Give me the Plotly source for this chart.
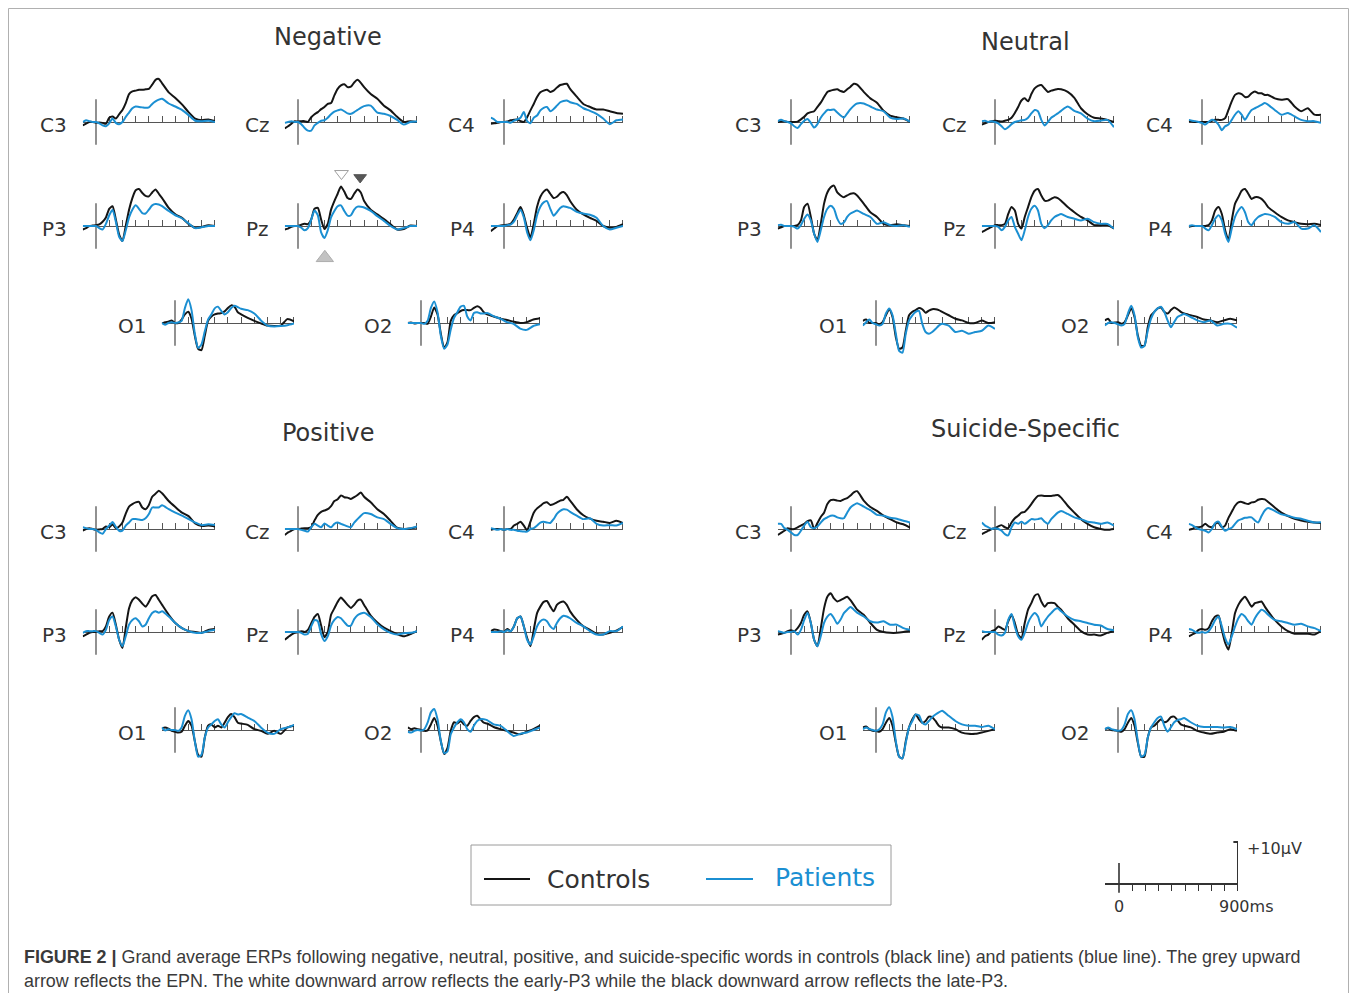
import plotly.graph_objects as go

# ---------------- data ----------------
TIME_MS = [-100, -75, -50, -25, 0, 25, 50, 75, 100, 125, 150, 175, 200, 225, 250, 275, 300,
           325, 350, 375, 400, 425, 450, 475, 500, 550, 600, 650, 700, 750, 800, 850, 900]
TICK_MS = [100, 200, 300, 400, 500, 600, 700, 800, 900]
CONDITIONS = ["Negative", "Neutral", "Positive", "Suicide-Specific"]
ELECTRODES = ["C3", "Cz", "C4", "P3", "Pz", "P4", "O1", "O2"]
GROUPS = ["Controls", "Patients"]

# Negative
NEG_C3_CTRL = [-0.8,-0.4,0,0,-0.2,-0.1,-0.2,-0.4,1.0,1.3,0.8,1.8,2.8,4.4,6.5,7.1,7.3,7.5,7.5,7.6,7.7,8.7,9.8,10.0,9.0,6.9,5.6,4.1,2.3,0.8,0.4,0.6,0.2]
NEG_C3_PAT = [0,0.4,0.2,0,0,-0.3,-0.8,-1.0,-0.3,0.8,-0.2,-0.5,0,1.2,2.2,3.2,3.6,3.5,3.4,3.3,3.4,4.2,4.8,5.2,5.4,4.3,3.6,2.8,1.6,0.3,0.2,0.3,0]
NEG_CZ_CTRL = [-1.5,-1.0,-0.4,0.2,0.1,0.2,0.2,0,1.1,1.8,2.3,3.0,3.5,4.2,4.4,6.2,7.7,8.5,8.8,8.1,8.2,9.2,9.8,9.1,8.1,6.5,5.4,3.8,2.7,1.2,0,0.2,0]
NEG_CZ_PAT = [-0.2,0,0.2,0,0,-0.5,-1.4,-2.0,-2.0,-0.8,-0.2,0.3,0.4,1.0,1.8,2.4,2.7,2.9,2.5,2.0,1.9,2.3,2.8,3.3,3.7,3.8,2.2,1.9,1.4,0.5,-0.6,0,0.1]
NEG_C4_CTRL = [-0.4,-0.3,-0.2,0,0,0.1,0.4,0.5,0.6,0.2,0,1.1,2.7,4.2,5.8,6.9,7.3,7.5,7.0,7.3,8.0,8.6,8.8,8.9,7.7,5.9,4.2,3.5,2.9,2.9,2.5,2.1,1.9]
NEG_C4_PAT = [1.0,0.6,0,0,0,0,-0.2,0.3,0.6,1.0,2.3,0.2,-0.3,1.0,1.5,2.7,3.3,3.5,2.5,3.0,3.8,4.6,4.9,5.0,4.6,4.2,3.2,2.6,1.9,0.8,-0.5,0.4,0.6]
NEG_P3_CTRL = [-0.8,-0.5,0,0.1,0.2,0.4,1.0,2.0,4.0,4.6,1.5,-2.0,-3.5,0,3.8,6.5,8.3,8.6,7.7,7.0,6.9,7.8,8.5,7.5,6.5,4.2,2.7,1.9,0.5,-0.4,-0.2,0.2,0]
NEG_P3_PAT = [0,0,0,0,0,-0.5,-0.8,0.5,2.5,3.8,1.0,-2.5,-3.5,-1.0,2.0,3.8,4.8,4.0,3.0,2.9,3.8,4.8,5.1,5.0,4.6,3.5,2.5,1.8,0.6,-0.5,-0.3,0,0]
NEG_PZ_CTRL = [-0.8,-0.6,-0.2,0,0,0.3,0.5,0.4,1.5,4.0,4.2,1.5,-0.7,0.5,3.8,5.8,7.5,9.2,8.0,6.5,6.3,7.5,8.5,7.8,5.8,3.8,2.7,1.6,0.4,-0.8,-0.7,0.1,0]
NEG_PZ_PAT = [0,0,0,0,0,-0.4,-1.0,-0.5,1.5,3.6,2.5,-1.5,-2.8,-1.0,2.0,3.5,4.6,4.8,3.5,2.4,2.5,3.8,4.5,4.5,4.3,3.5,2.3,1.2,0,-0.8,-0.5,0,0]
NEG_P4_CTRL = [-1.2,-0.6,0,0.1,0.2,0.3,0.5,1.5,3.0,4.4,2.5,-0.5,-2.7,0.5,4.5,6.8,8.0,8.5,7.5,6.5,6.8,7.6,7.9,7.2,5.8,3.8,2.7,1.9,1.2,0,-0.4,-0.2,0.4]
NEG_P4_PAT = [0,0,0,0,0,0.2,0.3,1.0,2.5,3.8,2.0,-1.5,-3.3,-1.0,2.5,4.5,5.5,5.8,4.0,2.4,3.2,4.2,4.6,4.4,4.2,3.3,2.9,2.6,1.9,0,-0.8,-0.4,0]
NEG_O1_CTRL = [-0.1,0.2,0.3,0.6,0,0,0.8,2.0,2.6,1.0,-3.0,-6.0,-6.3,-3.0,0.5,1.5,2.0,2.2,2.3,2.7,3.5,4.1,3.8,2.5,2.0,1.2,0.5,-0.1,-0.6,-0.7,-0.6,0.9,0.4]
NEG_O1_PAT = [0,-0.4,0,0.2,0,0.1,0.5,3.5,5.5,3.0,-2.5,-5.8,-5.0,-2.0,0.8,2.0,3.4,3.8,2.8,2.0,2.5,3.5,4.0,3.7,3.3,3.0,2.2,0.6,-0.6,-0.8,-0.7,-0.5,-0.1]
NEG_O2_CTRL = [0,0.1,-0.1,0,0,0,-0.2,1.5,3.6,2.0,-2.5,-5.8,-4.5,0.5,1.8,2.3,2.8,3.0,3.0,3.0,3.5,3.9,3.5,2.5,2.0,1.5,1.0,0.7,0.3,0,0.2,0.8,1.1]
NEG_O2_PAT = [0,0,0,0,0,-0.2,0.5,3.5,5.0,2.5,-3.0,-6.0,-5.0,-1.5,1.2,2.5,3.8,4.0,1.5,0.6,2.3,2.5,2.2,2.2,2.3,1.6,1.0,0.2,-0.2,-1.3,-1.6,-0.7,-0.3]

# Neutral
NEU_C3_CTRL = [0,0.1,0.2,0,0,0,0.1,0.6,1.2,2.0,2.3,2.5,3.5,4.5,5.8,7.0,7.3,7.5,7.6,7.2,7.0,7.6,8.2,8.9,8.7,7.0,5.5,4.5,2.6,1.5,1.1,0.8,0]
NEU_C3_PAT = [0.2,0.5,0.2,0,-0.3,-1.0,-1.4,-0.5,0.3,0.7,-0.2,-1.3,-0.5,1.0,2.0,2.8,2.8,2.9,2.2,1.5,1.0,2.0,3.0,3.8,4.3,4.3,3.6,2.9,2.5,1.0,0.7,0.8,0.1]
NEU_CZ_CTRL = [-0.6,-0.3,0,0.2,0.3,0.2,0.1,0.3,0.5,1.0,2.1,3.5,5.0,5.5,4.8,6.5,7.8,8.4,8.6,7.8,7.0,7.3,7.5,7.7,7.6,7.0,5.6,3.2,1.8,1.0,0.8,0.5,0]
NEU_CZ_PAT = [0.2,0.3,0,0.2,0,-0.3,-1.0,-1.7,-1.2,-0.5,0,0.2,0.4,0.5,1.0,2.0,2.8,2.5,0.5,-0.8,0,1.0,1.5,2.0,2.6,3.6,2.6,2.0,0.8,0.2,0.3,0.5,-1.2]
NEU_C4_CTRL = [0.2,0.1,0,0,0,0,0,0.3,0.5,0.5,0.5,0.9,2.8,4.8,6.3,6.7,6.5,5.8,5.9,6.7,7.1,6.7,6.7,6.3,6.3,5.5,5.2,5.3,3.6,2.5,3.2,1.7,1.7]
NEU_C4_PAT = [0.5,0.3,0.2,0,-0.2,-0.6,0,0.5,0.2,-0.6,-1.9,-1.0,-0.6,0.5,1.7,2.5,1.7,0.5,1.7,2.8,3.2,3.6,4.0,4.4,4.0,2.8,1.7,2.1,1.3,0.5,0.2,0.2,-0.2]
NEU_P3_CTRL = [-0.6,-0.3,0,0,0,0,0.2,1.3,4.4,5.2,2.1,-1.8,-3.3,0.5,5.2,7.8,9.0,9.4,7.8,7.1,6.7,7.1,7.5,7.6,7.1,5.2,3.2,2.1,0.5,0.2,0.4,0.2,0]
NEU_P3_PAT = [0.2,0.3,0,0,0,-0.2,-0.6,0.2,1.7,2.7,1.3,-1.8,-3.7,-1.0,2.1,4.0,4.7,4.0,1.7,0.5,0.8,2.1,2.9,3.3,3.6,2.8,2.1,0.5,0.9,0.2,0,0.2,-0.2]
NEU_PZ_CTRL = [-1.4,-1.0,-0.6,-0.2,0.2,0.2,0.2,0.5,2.8,4.4,3.6,0.5,-0.6,2.1,4.4,6.7,8.2,8.6,7.1,5.9,5.9,6.3,6.7,6.5,5.9,4.4,3.2,2.1,1.3,0.2,0.2,0.2,-0.6]
NEU_PZ_PAT = [0,0,0,0,0,-0.2,-1.0,-0.2,1.3,2.1,-0.2,-1.8,-3.3,-1.0,2.1,4.0,4.7,3.6,0.5,-0.5,0.2,1.3,2.1,2.5,2.8,2.1,1.7,1.3,1.7,0.9,0.5,0.5,-0.6]
NEU_P4_CTRL = [-0.2,0,0,0,0,0,0.2,1.3,3.6,4.4,2.8,-1.0,-3.3,1.3,5.2,6.7,8.2,8.6,7.5,6.3,6.7,6.7,6.3,5.5,4.4,3.2,2.1,1.3,0.9,0.5,0.4,0.5,0.2]
NEU_P4_PAT = [0,0.2,0,0,0,-0.6,-1.0,0.2,1.7,2.5,1.3,-1.8,-3.7,-0.6,2.1,3.6,4.4,3.2,0.9,0.2,1.3,2.1,2.5,2.8,2.7,2.1,0.9,0.5,0.9,-0.6,-0.6,0.2,-1.4]
NEU_O1_CTRL = [0.5,0.8,0,0,0,-0.3,0.2,1.8,3.2,1.4,-3.3,-6.0,-5.7,-1.8,1.8,2.6,3.0,3.5,3.2,2.4,2.9,3.2,3.2,3.0,2.6,1.8,1.0,0.6,0,0,0.6,0,0.2]
NEU_O1_PAT = [-0.6,0.2,0.8,0,-0.3,-0.6,-0.2,2.2,3.4,1.8,-2.5,-6.5,-6.9,-2.5,0.6,1.8,2.6,2.8,-0.2,-2.1,-2.5,-2.1,-1.4,-0.6,-0.2,-0.6,-2.1,-1.8,-2.5,-2.1,-1.8,-0.6,-1.4]
NEU_O2_CTRL = [0.6,1.0,0,0.1,0.2,-0.2,0.2,1.8,3.4,1.4,-2.9,-5.3,-5.3,-1.0,1.8,2.6,3.4,3.6,2.6,2.2,3.0,3.6,3.2,2.6,2.2,1.8,1.4,0.8,0.6,0.2,0.6,1.0,0.6]
NEU_O2_PAT = [-0.6,0,0.2,0,-0.3,-0.6,-0.2,2.2,4.0,1.8,-3.3,-5.7,-5.3,-1.8,1.0,2.6,3.4,3.8,2.6,0.6,-1.0,0.2,1.4,1.8,2.1,1.4,0.6,0.2,0.6,-0.6,-0.2,-0.2,-1.1]

# Positive
POS_C3_CTRL = [-0.4,0,0.2,0,-0.2,-0.1,0,0.6,0.4,1.1,0.2,0.6,1.5,3.6,5.2,5.8,6.2,6.3,5.0,4.6,5.6,7.5,8.2,8.9,8.3,6.5,5.1,3.8,3.0,1.3,0.7,0.8,0.6]
POS_C3_PAT = [0.4,0.2,0,0,-0.2,-0.8,-1.1,0,0.8,1.6,0.5,-0.4,-0.4,0.8,1.5,2.3,2.3,2.2,2.1,2.5,3.5,5.0,5.0,5.0,5.5,4.6,3.8,3.1,2.3,1.5,0.9,1.1,0.9]
POS_CZ_CTRL = [-1.4,-0.8,-0.4,0,0,0.1,0.2,0.2,0.4,2.0,3.3,4.0,4.3,4.6,5.3,6.5,6.9,7.8,7.4,7.3,7.0,7.4,7.9,8.5,7.5,6.2,4.6,3.5,1.9,0.3,0,0.1,0.4]
POS_CZ_PAT = [0,0,0,0,0,-0.2,-0.4,-0.6,0.4,1.2,0.8,0.4,1.3,0.8,0.4,1.2,1.5,1.2,0.9,0.6,0.4,1.5,2.3,3.1,3.7,3.5,2.7,2.3,1.2,0.2,0,0.2,0.6]
POS_C4_CTRL = [-0.2,0,0,0,-0.2,0,0,0.8,1.2,1.7,0.8,-0.3,1.7,3.8,4.8,5.4,6.0,6.2,5.6,5.8,6.2,6.6,6.8,7.5,6.6,4.6,3.2,2.4,1.9,1.7,1.4,1.9,1.4]
POS_C4_PAT = [0.2,0,-0.2,0,-0.2,0,-0.2,-0.2,-0.4,-0.5,-0.6,-0.6,0,0.2,0.8,1.5,1.7,1.5,1.4,2.3,3.5,4.2,4.6,4.5,4.0,3.1,2.3,2.5,1.2,0.8,0.9,0.8,1.4]
POS_P3_CTRL = [-1.0,-0.6,-0.2,0,0,0.2,0.2,1.3,3.6,4.5,1.7,-1.8,-3.7,1.0,5.5,7.4,8.1,7.5,6.6,5.9,7.0,8.3,8.6,7.5,6.3,4.0,2.1,0.9,0.2,0,-0.2,0.5,0.7]
POS_P3_PAT = [-0.2,0.2,0.2,0.2,0.2,-0.2,-0.6,0.5,2.8,3.6,1.3,-1.8,-3.3,-1.0,1.7,2.8,3.2,2.5,1.3,1.7,3.2,4.4,4.8,4.5,4.8,3.6,2.1,0.9,0.2,-0.2,-0.2,0.2,0.5]
POS_PZ_CTRL = [-1.8,-1.2,-0.6,-0.2,0,0.2,0,0.5,2.0,3.5,4.2,1.5,-1.2,0,4.0,5.5,7.0,8.0,7.2,6.3,5.6,6.3,7.3,7.5,6.3,3.8,2.2,1.0,0.2,-0.5,-1.0,-0.5,0.2]
POS_PZ_PAT = [0,0,0,0,0,-0.2,-0.6,-0.4,1.3,2.8,2.5,-0.5,-2.1,-1.0,1.5,2.8,3.5,3.2,2.3,1.5,1.5,3.0,3.9,4.3,4.5,3.5,1.8,0.6,-0.2,-0.6,-0.3,-0.2,0.2]
POS_P4_CTRL = [0.2,0.6,0.5,0.2,0,0.7,0.2,1.3,3.2,3.6,1.3,-1.4,-3.3,0.5,4.4,5.9,7.0,7.2,5.9,4.8,6.3,6.9,7.1,6.3,4.8,2.8,1.3,0.5,-0.4,-0.6,-0.2,0.3,1.2]
POS_P4_PAT = [0,0,0,0.2,0,0.4,0.2,1.3,3.2,3.6,1.3,-1.8,-2.9,-1.0,1.3,2.5,2.9,2.5,1.3,0.7,2.1,3.2,3.8,3.6,3.2,2.1,1.3,0.2,-0.6,-0.6,0.2,0.2,1.3]
POS_O1_CTRL = [0.3,0.6,0.3,-0.2,-0.4,-0.6,-0.4,1.0,2.1,1.0,-2.6,-5.8,-6.2,-1.8,1.0,1.3,0.6,1.0,0.6,1.7,3.0,3.7,3.0,1.7,1.5,1.2,0.2,-0.2,-0.9,-0.2,-0.9,0.6,1.0]
POS_O1_PAT = [0.6,-0.1,0.2,0,0,-0.2,0.6,3.3,4.6,2.5,-2.6,-6.2,-5.8,-1.8,0.6,1.3,2.1,2.5,1.3,0.6,1.8,3.0,3.9,3.6,3.7,2.9,2.1,0.6,-0.6,-0.9,0.2,0.6,1.2]
POS_O2_CTRL = [0.6,0.2,0.4,0.2,0,-0.2,-0.1,1.3,2.8,1.0,-2.6,-5.6,-4.2,-0.2,1.8,1.5,2.1,1.3,1.0,2.1,3.0,3.3,2.5,1.7,1.5,0.7,0.2,-0.2,-0.6,-1.0,-0.4,0.2,1.0]
POS_O2_PAT = [-0.4,-0.6,-0.2,0,-0.1,0.2,1.7,4.1,4.9,2.5,-2.6,-5.4,-5.0,-1.0,0.6,1.8,2.5,1.8,0.2,-0.4,1.0,2.1,2.5,2.5,2.3,1.3,1.0,-0.2,-1.4,-0.9,-0.6,0,0.6]

# Suicide-specific
SS_C3_CTRL = [-1.4,-0.9,-0.4,0.2,0,0,0.4,0.8,1.2,1.8,2.0,0,1.4,2.8,3.8,5.8,6.7,6.8,6.6,6.5,6.9,7.2,7.8,8.5,8.8,6.6,5.1,4.2,3.1,2.3,1.5,1.1,0.3]
SS_C3_PAT = [1.2,1.2,0.2,-0.2,-0.8,-1.4,-1.4,-0.4,0.8,1.7,0.4,0.2,0.6,1.5,2.3,2.7,3.1,3.1,2.7,2.5,2.5,3.8,5.0,5.6,6.0,5.2,4.4,3.3,3.1,2.6,2.4,1.9,1.5]
SS_CZ_CTRL = [-1.2,-0.8,-0.4,0,0.2,0.6,0.9,0.4,0.2,1.5,2.5,3.1,3.8,4.0,4.8,5.8,6.9,7.7,7.8,7.7,7.7,7.7,7.8,7.9,7.3,5.4,3.8,2.3,1.2,0.4,0,-0.2,0]
SS_CZ_PAT = [1.5,0.8,0.4,0,0.2,0,-0.4,-1.2,-1.5,0.4,1.5,1.2,1.7,1.2,1.7,2.3,2.2,2.3,2.5,1.7,1.2,2.3,3.1,3.8,4.2,3.5,2.7,2.3,1.7,1.5,1.2,1.5,0.8]
SS_C4_CTRL = [-0.2,0,0.4,0.4,0.6,1.2,0.6,0.4,1.2,1.4,0.4,0.8,2.6,4.0,5.4,6.2,6.3,6.0,5.8,6.2,6.3,6.8,7.0,6.9,6.3,5.0,3.8,3.0,2.4,2.0,1.7,1.5,1.4]
SS_C4_PAT = [1.2,0.9,0.4,0,-0.2,-0.4,-0.8,0,1.4,1.7,0.5,-0.4,0,0.3,1.2,2.0,2.3,2.6,2.7,2.7,2.0,1.5,3.0,4.3,4.9,4.2,3.4,3.1,2.6,2.4,1.9,1.5,1.6]
SS_P3_CTRL = [-0.6,-0.4,-0.2,0.2,0.4,0.2,0.9,2.1,4.0,4.8,2.1,-1.8,-3.3,0.8,5.5,8.2,9.0,7.8,7.1,7.4,7.8,8.2,7.4,6.3,5.2,4.0,2.1,0.5,0,-0.2,-0.2,0,0.3]
SS_P3_PAT = [0.2,0,-0.2,0,0,0.2,-0.6,0.5,2.8,4.5,2.1,-1.8,-3.3,-1.0,2.1,3.6,4.2,3.2,1.9,2.9,4.4,5.2,5.8,5.2,4.5,3.6,2.5,2.2,2.5,1.7,1.7,0.9,0.5]
SS_PZ_CTRL = [-1.8,-1.0,-0.6,0.2,0.5,1.3,0.9,0.5,2.5,4.0,2.1,-0.6,-1.4,2.1,5.2,6.7,8.4,8.8,7.1,5.9,6.7,6.8,6.7,5.9,5.2,3.2,1.7,0.2,-0.6,-0.6,-0.8,-0.2,0.2]
SS_PZ_PAT = [0.2,0,0,0,0,-0.6,-0.8,-0.2,2.8,4.2,1.3,-1.0,-1.8,-0.2,2.1,3.6,4.4,3.6,1.3,2.5,3.6,4.4,5.2,5.5,4.8,3.6,2.8,2.5,2.1,1.7,1.5,0.7,0.4]
SS_P4_CTRL = [-1.0,-0.6,-0.2,0.5,0.7,0.5,0.9,2.5,3.6,3.8,0.5,-2.5,-4.1,-0.2,4.4,6.3,7.5,8.2,7.1,5.9,6.7,6.9,7.1,5.9,4.8,2.8,1.3,0.2,-0.4,-0.4,-0.4,-0.6,0.2]
SS_P4_PAT = [0.7,0.5,0,-0.2,0,-0.2,0.2,1.3,2.8,3.6,1.3,-1.4,-2.9,-1.0,1.3,3.2,4.2,3.6,2.5,1.7,3.2,4.4,5.2,4.8,4.0,2.8,2.5,2.1,1.7,1.9,1.3,0.9,0.2]
SS_O1_CTRL = [0.6,0.8,0.2,-0.2,-0.2,-0.4,0.2,1.7,2.8,1.0,-3.0,-6.2,-6.6,-2.6,0.6,2.5,3.6,2.5,1.7,2.1,3.1,3.0,2.1,1.0,0.6,0.6,0.2,-0.6,-0.9,-0.9,-0.6,-0.2,0.2]
SS_O1_PAT = [0.2,0.6,0.2,0,-0.2,0.2,1.3,4.1,5.3,3.0,-2.6,-6.2,-6.6,-3.0,0.6,2.1,3.6,3.4,1.7,1.3,2.1,3.0,3.6,4.1,4.5,3.3,2.1,1.3,1.0,1.0,0.7,1.0,0.2]
SS_O2_CTRL = [0.2,0.4,0,-0.1,-0.2,-0.4,0.2,1.7,2.8,1.0,-3.0,-6.2,-6.2,-1.8,0.6,1.0,1.8,2.5,1.8,2.1,3.0,3.1,2.3,1.3,1.0,0.6,-0.2,-0.6,-0.9,-0.6,-0.4,0.2,-0.2]
SS_O2_PAT = [0.2,0.6,0.2,0,-0.2,0,1.3,3.7,4.6,2.5,-2.6,-6.2,-5.8,-1.8,0.6,1.8,2.8,3.1,1.0,-0.4,0.6,1.8,2.3,2.5,2.8,1.8,1.0,0.7,0.7,0.7,0.6,0.7,0.2]

# component markers in the Negative / Pz plot
ARROW_NAMES = ["EPN", "early-P3", "late-P3"]
ARROW_MS = [203, 329, 470]
ARROW_UV = [-7.4, 12.2, 11.3]

# scale bar
SCALE_MS = [0, 900]
SCALE_UV = 10

SERIES = {
    "Negative": {"C3": (NEG_C3_CTRL, NEG_C3_PAT), "Cz": (NEG_CZ_CTRL, NEG_CZ_PAT), "C4": (NEG_C4_CTRL, NEG_C4_PAT),
                 "P3": (NEG_P3_CTRL, NEG_P3_PAT), "Pz": (NEG_PZ_CTRL, NEG_PZ_PAT), "P4": (NEG_P4_CTRL, NEG_P4_PAT),
                 "O1": (NEG_O1_CTRL, NEG_O1_PAT), "O2": (NEG_O2_CTRL, NEG_O2_PAT)},
    "Neutral": {"C3": (NEU_C3_CTRL, NEU_C3_PAT), "Cz": (NEU_CZ_CTRL, NEU_CZ_PAT), "C4": (NEU_C4_CTRL, NEU_C4_PAT),
                "P3": (NEU_P3_CTRL, NEU_P3_PAT), "Pz": (NEU_PZ_CTRL, NEU_PZ_PAT), "P4": (NEU_P4_CTRL, NEU_P4_PAT),
                "O1": (NEU_O1_CTRL, NEU_O1_PAT), "O2": (NEU_O2_CTRL, NEU_O2_PAT)},
    "Positive": {"C3": (POS_C3_CTRL, POS_C3_PAT), "Cz": (POS_CZ_CTRL, POS_CZ_PAT), "C4": (POS_C4_CTRL, POS_C4_PAT),
                 "P3": (POS_P3_CTRL, POS_P3_PAT), "Pz": (POS_PZ_CTRL, POS_PZ_PAT), "P4": (POS_P4_CTRL, POS_P4_PAT),
                 "O1": (POS_O1_CTRL, POS_O1_PAT), "O2": (POS_O2_CTRL, POS_O2_PAT)},
    "Suicide-Specific": {"C3": (SS_C3_CTRL, SS_C3_PAT), "Cz": (SS_CZ_CTRL, SS_CZ_PAT), "C4": (SS_C4_CTRL, SS_C4_PAT),
                         "P3": (SS_P3_CTRL, SS_P3_PAT), "Pz": (SS_PZ_CTRL, SS_PZ_PAT), "P4": (SS_P4_CTRL, SS_P4_PAT),
                         "O1": (SS_O1_CTRL, SS_O1_PAT), "O2": (SS_O2_CTRL, SS_O2_PAT)},
}

# ---------------- layout geometry (screen pixels) ----------------
FIG_W, FIG_H, OFF = 1341, 985, 8
def fx(sx):
    return (sx - OFF) / FIG_W
def fy(sy):
    return 1 - (sy - OFF) / FIG_H

PX_PER_MS = 119.0 / 900.0
PX_PER_UV = 4.3
Y_RANGE = [-8, 14]
AX_HALF = 5.3

AXIS_X = {
    "left": {"C3": 96, "Cz": 298, "C4": 504, "P3": 96, "Pz": 298, "P4": 504, "O1": 175, "O2": 421},
    "right": {"C3": 791, "Cz": 995, "C4": 1202, "P3": 791, "Pz": 995, "P4": 1202, "O1": 876, "O2": 1118},
}
ROW_Y = {"top": {"C": 122, "P": 226, "O": 323}, "bottom": {"C": 529, "P": 632, "O": 730}}
PANEL_POS = {"Negative": ("left", "top"), "Neutral": ("right", "top"),
             "Positive": ("left", "bottom"), "Suicide-Specific": ("right", "bottom")}
TITLE_POS = {"Negative": (328, 37), "Neutral": (1025, 42), "Positive": (328, 433), "Suicide-Specific": (1025, 429)}

BLACK = "#151515"
BLUE = "#1b8fd2"
AXC = "#555555"
TXT = "#333333"
FONT = "DejaVu Sans"

fig = go.Figure()
layout = {}
shapes = []
annotations = []

idx = 0
plot_ref = {}
for cond in CONDITIONS:
    side, half = PANEL_POS[cond]
    for el in ELECTRODES:
        idx += 1
        sfx = "" if idx == 1 else str(idx)
        ax_x = AXIS_X[side][el]
        base = ROW_Y[half][el[0]]
        x0 = ax_x + TIME_MS[0] * PX_PER_MS
        x1 = ax_x + TIME_MS[-1] * PX_PER_MS
        layout["xaxis" + sfx] = dict(
            domain=[fx(x0), fx(x1)], range=[TIME_MS[0], TIME_MS[-1]], anchor="free", position=fy(base),
            side="top", showline=True, linecolor=AXC, linewidth=1.3, ticks="outside", tickvals=TICK_MS,
            ticklen=6, tickwidth=1.2, tickcolor=AXC, showticklabels=False, showgrid=False, zeroline=False,
            fixedrange=True, layer="below traces")
        layout["yaxis" + sfx] = dict(
            domain=[fy(base - Y_RANGE[0] * PX_PER_UV), fy(base - Y_RANGE[1] * PX_PER_UV)],
            range=Y_RANGE, anchor="x" + sfx, visible=False, fixedrange=True)
        shapes.append(dict(type="line", xref="x" + sfx, yref="y" + sfx, x0=0, x1=0, y0=-AX_HALF, y1=AX_HALF,
                           line=dict(color=AXC, width=1.3), layer="below"))
        ctrl, pat = SERIES[cond][el]
        for vals, color, grp in ((ctrl, BLACK, GROUPS[0]), (pat, BLUE, GROUPS[1])):
            fig.add_trace(go.Scatter(x=TIME_MS, y=vals, xaxis="x" + sfx, yaxis="y" + sfx, mode="lines",
                                     name=grp, showlegend=False, hoverinfo="skip",
                                     line=dict(color=color, width=2, shape="spline", smoothing=0.6)))
        annotations.append(dict(text=el, xref="paper", yref="paper", x=fx(ax_x - 27), y=fy(base + 3),
                                xanchor="right", yanchor="middle", showarrow=False,
                                font=dict(family=FONT, size=20, color=TXT)))
        plot_ref[(cond, el)] = sfx

# titles
for cond in CONDITIONS:
    tx, ty = TITLE_POS[cond]
    annotations.append(dict(text=cond, xref="paper", yref="paper", x=fx(tx), y=fy(ty), xanchor="center",
                            yanchor="middle", showarrow=False, font=dict(family=FONT, size=24, color=TXT)))

# component arrows (Negative, Pz)
sfx = plot_ref[("Negative", "Pz")]
fig.add_trace(go.Scatter(x=ARROW_MS, y=ARROW_UV, xaxis="x" + sfx, yaxis="y" + sfx, mode="markers",
                         showlegend=False, cliponaxis=False, hovertext=ARROW_NAMES, hoverinfo="text",
                         marker=dict(symbol=["triangle-up", "triangle-down", "triangle-down"],
                                     size=[15, 12, 11], color=["#a9a9a9", "#ffffff", "#111111"],
                                     line=dict(color=["#8a8a8a", "#777777", "#111111"], width=1))))

# scale bar axes
sb = str(idx + 1)
SB_ZERO_X, SB_BASE_Y = 1119, 884
layout["xaxis" + sb] = dict(
    domain=[fx(SB_ZERO_X + TIME_MS[0] * PX_PER_MS * 1.0 - 1), fx(SB_ZERO_X + SCALE_MS[1] * PX_PER_MS)],
    range=[TIME_MS[0] - 100 / 13.22, SCALE_MS[1]], anchor="free", position=fy(SB_BASE_Y), side="bottom",
    showline=True, linecolor="#333", linewidth=1.6, ticks="outside", tickvals=TICK_MS, ticklen=6,
    tickwidth=1.2, tickcolor="#333", showticklabels=False, showgrid=False, zeroline=False, fixedrange=True)
layout["yaxis" + sb] = dict(domain=[fy(SB_BASE_Y + 5 * 4.2), fy(SB_BASE_Y - 12 * 4.2)], range=[-5, 12],
                            anchor="x" + sb, visible=False, fixedrange=True)
shapes.append(dict(type="line", xref="x" + sb, yref="y" + sb, x0=SCALE_MS[0], x1=SCALE_MS[0], y0=-2.1, y1=5.0,
                   line=dict(color="#333", width=1.6)))
shapes.append(dict(type="line", xref="x" + sb, yref="y" + sb, x0=SCALE_MS[1], x1=SCALE_MS[1], y0=0, y1=SCALE_UV,
                   line=dict(color="#333", width=2)))
shapes.append(dict(type="line", xref="x" + sb, yref="y" + sb, x0=SCALE_MS[1] - 35, x1=SCALE_MS[1],
                   y0=SCALE_UV, y1=SCALE_UV, line=dict(color="#333", width=2)))
annotations.append(dict(text="+%dμV" % SCALE_UV, xref="paper", yref="paper", x=fx(1245), y=fy(848),
                        xanchor="left", yanchor="middle", showarrow=False, font=dict(family=FONT, size=16, color=TXT)))
annotations.append(dict(text="%d" % SCALE_MS[0], xref="paper", yref="paper", x=fx(1119), y=fy(906),
                        xanchor="center", yanchor="middle", showarrow=False, font=dict(family=FONT, size=16, color=TXT)))
annotations.append(dict(text="%dms" % SCALE_MS[1], xref="paper", yref="paper", x=fx(1246), y=fy(906),
                        xanchor="center", yanchor="middle", showarrow=False, font=dict(family=FONT, size=16, color=TXT)))

# legend box
shapes.append(dict(type="rect", xref="paper", yref="paper", x0=fx(471), x1=fx(891), y0=fy(905), y1=fy(845),
                   line=dict(color="#9a9a9a", width=1)))
shapes.append(dict(type="line", xref="paper", yref="paper", x0=fx(484), x1=fx(530), y0=fy(879), y1=fy(879),
                   line=dict(color=BLACK, width=2)))
shapes.append(dict(type="line", xref="paper", yref="paper", x0=fx(706), x1=fx(753), y0=fy(879), y1=fy(879),
                   line=dict(color=BLUE, width=2)))
annotations.append(dict(text=GROUPS[0], xref="paper", yref="paper", x=fx(545), y=fy(879), xanchor="left",
                        yanchor="middle", showarrow=False, font=dict(family=FONT, size=25, color=TXT)))
annotations.append(dict(text=GROUPS[1], xref="paper", yref="paper", x=fx(773), y=fy(877), xanchor="left",
                        yanchor="middle", showarrow=False, font=dict(family=FONT, size=25, color=BLUE)))

# outer frame
shapes.append(dict(type="rect", xref="paper", yref="paper", x0=fx(8.5), x1=fx(1348.5), y0=fy(1010), y1=fy(8.5),
                   line=dict(color="#b0b0b0", width=1)))

# caption
CAP1 = ("<b>FIGURE 2 |</b> Grand average ERPs following negative, neutral, positive, and suicide-specific words "
        "in controls (black line) and patients (blue line). The grey upward")
CAP2 = ("arrow reflects the EPN. The white downward arrow reflects the early-P3 while the black downward arrow "
        "reflects the late-P3.")
for txt, yy in ((CAP1, 957), (CAP2, 981)):
    annotations.append(dict(text=txt, xref="paper", yref="paper", x=fx(22), y=fy(yy), xanchor="left",
                            yanchor="middle", showarrow=False,
                            font=dict(family="Liberation Sans, Arial", size=17.9, color="#3a3a3a")))

fig.update_layout(width=FIG_W, height=FIG_H, margin=dict(l=0, r=0, t=0, b=0), paper_bgcolor="white",
                  plot_bgcolor="rgba(0,0,0,0)", showlegend=False, shapes=shapes, annotations=annotations,
                  font=dict(family=FONT, color=TXT), **layout)

fig.write_html("out.html")
